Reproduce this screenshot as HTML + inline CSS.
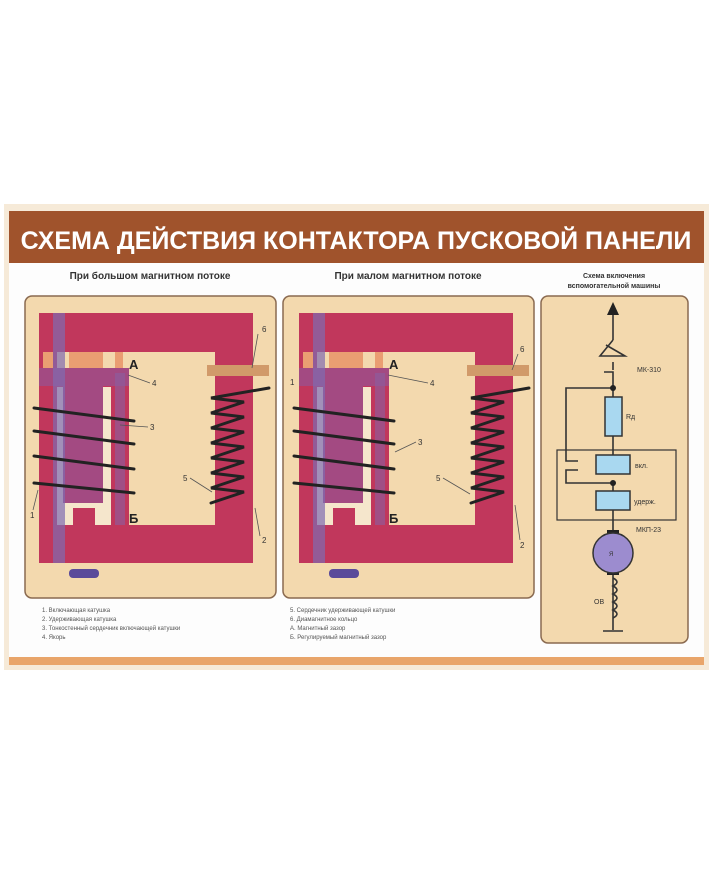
<!DOCTYPE html>
<html><head><meta charset="utf-8"><style>
body{margin:0;background:#fff;width:713px;height:881px;overflow:hidden;font-family:"Liberation Sans","Noto Sans CJK SC",sans-serif}
</style></head><body>
<svg width="713" height="881" viewBox="0 0 713 881" xmlns="http://www.w3.org/2000/svg" font-family="Liberation Sans, sans-serif">
<rect x="4" y="204" width="705" height="466" fill="#f6ead8"/>
<rect x="9" y="262" width="695" height="396" fill="#fdfdfd"/>
<rect x="9" y="211" width="695" height="52" fill="#a0532c"/>
<text x="356" y="249" text-anchor="middle" font-size="25" font-weight="bold" fill="#fff">СХЕМА ДЕЙСТВИЯ КОНТАКТОРА ПУСКОВОЙ ПАНЕЛИ</text>
<rect x="9" y="657" width="695" height="8" fill="#e9a56a"/>
<text x="150" y="279" text-anchor="middle" font-size="10" font-weight="bold" fill="#333">При большом магнитном потоке</text>
<text x="408" y="279" text-anchor="middle" font-size="10" font-weight="bold" fill="#333">При малом магнитном потоке</text>
<text x="614" y="278" text-anchor="middle" font-size="7" font-weight="bold" fill="#333">Схема включения</text>
<text x="614" y="288" text-anchor="middle" font-size="7" font-weight="bold" fill="#333">вспомогательной машины</text>
<rect x="25" y="296" width="251" height="302" rx="7" fill="#f3d9ae" stroke="#8a6a50" stroke-width="1.5"/>
<rect x="283" y="296" width="251" height="302" rx="7" fill="#f3d9ae" stroke="#8a6a50" stroke-width="1.5"/>
<rect x="541" y="296" width="147" height="347" rx="7" fill="#f3d9ae" stroke="#8a6a50" stroke-width="1.5"/>
<defs>
<g id="mag">
<rect x="0" y="0" width="214" height="39" fill="#c1375c"/>
<rect x="176" y="0" width="38" height="250" fill="#c1375c"/>
<rect x="0" y="212" width="214" height="38" fill="#c1375c"/>
<rect x="0" y="0" width="18" height="250" fill="#c1375c"/>
<rect x="0" y="55" width="90" height="157" fill="#c1375c"/>
<rect x="18" y="74" width="54" height="138" fill="#f5e6cc"/>
<rect x="24" y="55" width="40" height="135" fill="#a34a82"/>
<rect x="0" y="55" width="90" height="18" fill="#a34a82"/>
<rect x="14" y="0" width="12" height="250" fill="#7f6bb0" opacity="0.7"/>
<rect x="76" y="60" width="10" height="152" fill="#8a5fa0" opacity="0.6"/>
<rect x="4" y="39" width="10" height="16" fill="#ea9e72"/>
<rect x="30" y="39" width="34" height="16" fill="#ea9e72"/>
<rect x="76" y="39" width="8" height="16" fill="#ea9e72"/>
<rect x="34" y="195" width="22" height="17" fill="#c1375c"/>
<rect x="168" y="52" width="62" height="11" fill="#d19a6a"/>
<rect x="30" y="256" width="30" height="9" rx="4" fill="#5a4a9a"/>
<g fill="none" stroke="#222" stroke-width="3" stroke-linecap="round">
<path d="M-5 95 L95 108 M-5 118 L95 131 M-5 143 L95 156 M-5 170 L95 180"/>
<path d="M230 75 L172 85 L205 89 L172 100 L205 104 L172 115 L205 119 L172 130 L205 134 L172 145 L205 149 L172 160 L205 164 L172 175 L205 179 L172 190"/>
</g>
</g>
</defs>
<use href="#mag" x="39" y="313"/>
<use href="#mag" x="299" y="313"/>
<g font-size="13" font-weight="bold" fill="#222">
<text x="129" y="369">А</text><text x="129" y="523">Б</text>
<text x="389" y="369">А</text><text x="389" y="523">Б</text>
</g>
<g font-size="8" fill="#333" stroke="none">
<text x="152" y="386">4</text><text x="150" y="430">3</text><text x="183" y="481">5</text><text x="262" y="332">6</text><text x="262" y="543">2</text><text x="30" y="518">1</text>
<text x="430" y="386">4</text><text x="418" y="445">3</text><text x="436" y="481">5</text><text x="520" y="352">6</text><text x="520" y="548">2</text><text x="290" y="385">1</text>
</g>
<g stroke="#555" stroke-width="0.8">
<line x1="128" y1="375" x2="150" y2="383"/><line x1="120" y1="425" x2="148" y2="427"/><line x1="190" y1="478" x2="212" y2="492"/><line x1="258" y1="334" x2="252" y2="368"/><line x1="260" y1="536" x2="255" y2="508"/><line x1="33" y1="510" x2="38" y2="490"/>
<line x1="388" y1="375" x2="428" y2="383"/><line x1="395" y1="452" x2="416" y2="442"/><line x1="443" y1="478" x2="470" y2="494"/><line x1="518" y1="354" x2="512" y2="370"/><line x1="520" y1="540" x2="515" y2="505"/>
</g>
<g font-size="6" fill="#555">
<text x="42" y="612">1. Включающая катушка</text><text x="42" y="621">2. Удерживающая катушка</text><text x="42" y="630">3. Тонкостенный сердечник включающей катушки</text><text x="42" y="639">4. Якорь</text>
<text x="290" y="612">5. Сердечник удерживающей катушки</text><text x="290" y="621">6. Диамагнитное кольцо</text><text x="290" y="630">А. Магнитный зазор</text><text x="290" y="639">Б. Регулируемый магнитный зазор</text>
</g>
<g stroke="#333" stroke-width="1.6" fill="none">
<line x1="613" y1="312" x2="613" y2="340"/>
<path d="M613 340 L600 356 L625 356 L606 345"/>
<line x1="613" y1="362" x2="613" y2="370"/>
<path d="M604 372 L613 372 L613 455"/>
<path d="M613 388 L566 388 L566 461 L578 461 M578 470 L566 470 L566 483 L613 483 L613 630"/>
<rect x="557" y="450" width="119" height="70" stroke-width="1.2"/>
<path d="M613 578 q8 4 0 8 q8 4 0 8 q8 4 0 8 q8 4 0 8 q8 4 0 8"/>
<line x1="603" y1="631" x2="623" y2="631"/>
</g>
<path d="M607 315 L613 302 L619 315 Z" fill="#222"/>
<circle cx="613" cy="388" r="3" fill="#222"/><circle cx="613" cy="483" r="3" fill="#222"/>
<rect x="605" y="397" width="17" height="39" fill="#a9d8f0" stroke="#333" stroke-width="1.5"/>
<rect x="596" y="455" width="34" height="19" fill="#a9d8f0" stroke="#333" stroke-width="1.5"/>
<rect x="596" y="491" width="34" height="19" fill="#a9d8f0" stroke="#333" stroke-width="1.5"/>
<rect x="607" y="530" width="12" height="8" fill="#222"/><rect x="607" y="567" width="12" height="8" fill="#222"/>
<circle cx="613" cy="553" r="20" fill="#9c8ccf" stroke="#333" stroke-width="1.5"/>
<g font-size="7" fill="#333">
<text x="637" y="372">МК-310</text><text x="626" y="419">Rд</text><text x="635" y="468">вкл.</text><text x="634" y="504">удерж.</text><text x="636" y="532">МКП-23</text><text x="594" y="604">ОВ</text><text x="609" y="556" font-size="6">Я</text>
</g>
</svg>
</body></html>
